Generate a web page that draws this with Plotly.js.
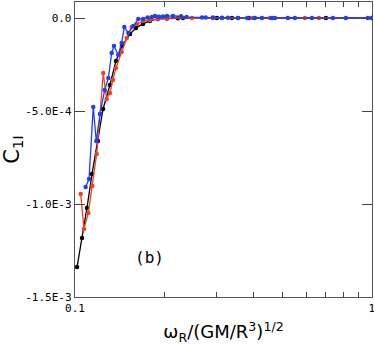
<!DOCTYPE html>
<html>
<head>
<meta charset="utf-8">
<script src="https://cdn.plot.ly/plotly-3.0.1.min.js"></script>
<style>
  body { margin: 0; background: #fff; }
  #plot { width: 374px; height: 356px; }
</style>
</head>
<body>
<div id="plot"></div>
<script>
// black series
var xBlack = [0.1016, 0.1056, 0.1097, 0.1141, 0.1195, 0.1243, 0.1311, 0.1374, 0.1439, 0.1532,
  0.1604, 0.1694, 0.1788, 0.190, 0.204, 0.222, 0.2310, 0.3006, 0.3378, 0.385, 0.700, 1.0];
var yBlack = [-1.339e-3, -1.183e-3, -1.022e-3, -0.839e-3, -0.661e-3, -0.489e-3, -0.360e-3, -0.231e-3,
  -0.151e-3, -0.086e-3, -0.054e-3, -0.032e-3, -0.016e-3, -0.005e-3, -0.003e-3, -0.001e-3, 0, 0, 0, 0, 0, 0];

// red series
var xRed = [0.1045, 0.1072, 0.1109, 0.1144, 0.1183, 0.1214, 0.1245, 0.1278, 0.1311, 0.1342,
  0.1374, 0.1436, 0.1493, 0.1552, 0.1618, 0.1694, 0.1788, 0.190, 0.204, 0.2477, 0.2915,
  0.3126, 0.354, 0.3975, 0.4535, 0.5949, 0.663, 1.0];
var yRed = [-0.946e-3, -1.134e-3, -1.048e-3, -0.903e-3, -0.731e-3, -0.516e-3, -0.296e-3, -0.435e-3,
  -0.403e-3, -0.333e-3, -0.269e-3, -0.183e-3, -0.108e-3, -0.048e-3, -0.032e-3, -0.016e-3,
  -0.011e-3, -0.005e-3, 0, 0, 0, 0, 0, 0, 0, 0, 0, 0];

// blue series
var xBlue = [0.1086, 0.1115, 0.1152, 0.1179, 0.1214, 0.1259, 0.1295, 0.1329, 0.1353, 0.1398,
  0.1436, 0.1466, 0.1512, 0.1572, 0.1634, 0.1698, 0.1757, 0.1816, 0.186, 0.1918, 0.1979,
  0.2041, 0.2138, 0.2276, 0.2377, 0.2677, 0.2755, 0.2915, 0.3126, 0.3273, 0.354, 0.3805,
  0.4036, 0.4262, 0.4605, 0.4712, 0.521, 0.5505, 0.628, 0.739, 0.817, 0.969, 1.0];
var yBlue = [-0.909e-3, -0.866e-3, -0.478e-3, -0.661e-3, -0.516e-3, -0.387e-3, -0.323e-3, -0.188e-3,
  -0.151e-3, -0.199e-3, -0.134e-3, -0.048e-3, -0.081e-3, -0.043e-3, -0.005e-3, -0.005e-3,
  0.003e-3, 0.005e-3, 0.011e-3, 0.007e-3, 0.008e-3, 0.011e-3, 0.011e-3, 0.010e-3, 0.005e-3,
  0.003e-3, 0.002e-3, 0.002e-3, 0.001e-3, 0.001e-3, 0, 0, 0, 0, 0, 0, 0, 0, 0, 0, 0, 0, 0];

// axis ticks
var xTickVals = [0.1, 0.2, 0.3, 0.4, 0.5, 0.6, 0.7, 0.8, 0.9, 1];
var xTickText = ["0.1", "", "", "", "", "", "", "", "", "1"];
var yTickVals = [0, -5e-4, -1e-3, -1.5e-3];
var yTickText = ["0.0", "-5.0E-4", "-1.0E-3", "-1.5E-3"];

function series(x, y, color) {
  return {
    x: x,
    y: y,
    mode: "lines+markers",
    line: { color: color, width: 1.3 },
    marker: { color: color, size: 4.5 },
    showlegend: false,
    cliponaxis: true,
  };
}

var mono = "DejaVu Sans Mono, monospace";
var sans = "DejaVu Sans, sans-serif";

Plotly.newPlot(
  "plot",
  [
    series(xBlack, yBlack, "#000000"),
    series(xRed, yRed, "#f0401e"),
    series(xBlue, yBlue, "#1f3ff0"),
  ],
  {
    width: 374,
    height: 356,
    margin: { l: 75, r: 2, t: 2, b: 59 },
    paper_bgcolor: "#ffffff",
    plot_bgcolor: "#ffffff",
    xaxis: {
      type: "log",
      range: [-1, 0.0003],
      tickvals: xTickVals,
      ticktext: xTickText,
      ticks: "inside",
      ticklen: 5,
      tickcolor: "#444",
      showline: true,
      linecolor: "#555",
      linewidth: 1.3,
      mirror: "ticks",
      showgrid: false,
      zeroline: false,
      ticklabeloverflow: "allow",
      tickfont: { family: mono, size: 11, color: "#000" },
      title: {
        text: "ω<sub>R</sub>/(GM/R<sup>3</sup>)<sup>1/2</sup>",
        font: { family: sans, size: 18, color: "#000" },
        standoff: 12,
      },
    },
    yaxis: {
      range: [-1.5e-3, 0.086e-3],
      tickvals: yTickVals,
      ticktext: yTickText,
      ticks: "inside",
      ticklen: 10,
      tickcolor: "#444",
      showline: true,
      linecolor: "#555",
      linewidth: 1.3,
      mirror: "ticks",
      showgrid: false,
      zeroline: false,
      tickfont: { family: mono, size: 11, color: "#000" },
      title: {
        text: "C<sub>1I</sub>",
        font: { family: sans, size: 21, color: "#000" },
        standoff: 6,
      },
    },
    annotations: [
      {
        text: "(b)",
        x: Math.log10(0.1788),
        y: -1.29e-3,
        xref: "x",
        yref: "y",
        showarrow: false,
        font: { family: mono, size: 16, color: "#000" },
      },
    ],
  },
  { displayModeBar: false, staticPlot: true }
);
</script>
</body>
</html>
